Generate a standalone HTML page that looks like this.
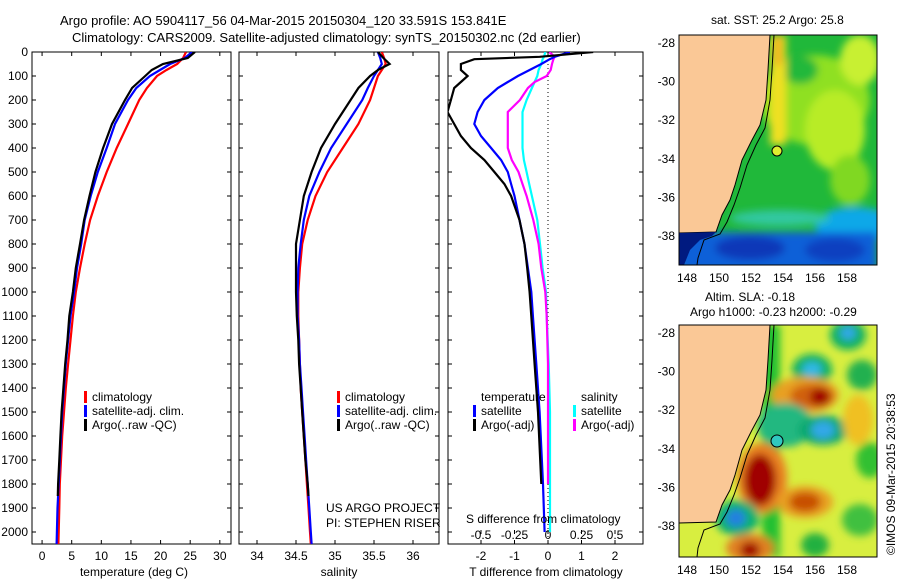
<!DOCTYPE html>
<html><head><meta charset="utf-8"><style>
body{margin:0;background:#fff}
svg{display:block;font-family:"Liberation Sans",sans-serif;font-size:12px}
</style></head><body>
<svg id="fig" width="900" height="580" viewBox="0 0 900 580">
<defs>
<filter id="blur6" x="-50%" y="-50%" width="200%" height="200%"><feGaussianBlur stdDeviation="4"/></filter>
<clipPath id="c1"><rect x="679" y="35" width="198" height="230"/></clipPath>
<clipPath id="c2"><rect x="679" y="325" width="198" height="232"/></clipPath>
<clipPath id="p1"><rect x="32" y="52" width="199" height="492"/></clipPath>
<clipPath id="p2"><rect x="239" y="52" width="200" height="492"/></clipPath>
<clipPath id="p3"><rect x="448" y="52" width="195" height="492"/></clipPath>
</defs>
<text x="60" y="25" font-size="13">Argo profile: AO 5904117_56 04-Mar-2015 20150304_120 33.591S 153.841E</text>
<text x="72" y="42" font-size="13">Climatology: CARS2009. Satellite-adjusted climatology: synTS_20150302.nc (2d earlier)</text>
<g id="axes"></g>
<g id="maps">
 <g clip-path="url(#c1)">
  <rect x="679" y="35" width="198" height="230" fill="#20b83a"/>
  <g filter="url(#blur6)">
   <ellipse cx="815" cy="100" rx="55" ry="45" fill="#8fe020"/>
   <ellipse cx="835" cy="130" rx="30" ry="40" fill="#b8ec28"/>
   <ellipse cx="860" cy="60" rx="20" ry="25" fill="#c8f030"/>
   <ellipse cx="800" cy="70" rx="18" ry="14" fill="#20b83a"/>
   <ellipse cx="850" cy="180" rx="20" ry="25" fill="#80d820"/>
   <rect x="770" y="35" width="16" height="110" fill="#f0e020"/>
   <rect x="775" y="35" width="6" height="30" fill="#f0a020"/>
   <ellipse cx="855" cy="225" rx="40" ry="18" fill="#10a8e8"/>
   <rect x="679" y="232" width="198" height="40" fill="#1060d8"/>
   <ellipse cx="780" cy="218" rx="50" ry="8" fill="#30c8a0"/>
   <ellipse cx="750" cy="248" rx="35" ry="12" fill="#0838b8"/>
   <ellipse cx="835" cy="250" rx="30" ry="12" fill="#0840c0"/>
  </g>
  <polygon points="679,35 770,35 768,70 766,100 760,125 752,140 742,160 735,185 730,200 722,215 716,232 679,233" fill="#fac896" stroke="#000" stroke-width="1"/>
  <polygon points="679,233 716,232 712,236 700,240 690,250 684,265 679,265" fill="#001a80"/>
  <polyline points="774,35 772,70 770,100 765,128 756,145 747,165 740,188 734,205 727,222 720,234 704,240 698,258 697,265" fill="none" stroke="#000" stroke-width="1"/>
  <circle cx="777" cy="151" r="5" fill="#e0ee30" stroke="#000" stroke-width="1"/>
 </g>
 <rect x="679" y="35" width="198" height="230" fill="none" stroke="#000"/>
 <g clip-path="url(#c2)">
  <rect x="679" y="325" width="198" height="232" fill="#d8ee40"/>
  <g filter="url(#blur6)">
   <rect x="762" y="325" width="18" height="232" fill="#20c030"/>
   <ellipse cx="812" cy="370" rx="20" ry="16" fill="#10b060"/>
   <ellipse cx="812" cy="369" rx="10" ry="7" fill="#30b8e8"/>
   <ellipse cx="848" cy="335" rx="18" ry="15" fill="#10b060"/>
   <ellipse cx="848" cy="333" rx="8" ry="7" fill="#30a8e8"/>
   <ellipse cx="805" cy="395" rx="34" ry="18" fill="#e8a020"/>
   <ellipse cx="812" cy="396" rx="22" ry="12" fill="#d06010"/>
   <ellipse cx="820" cy="397" rx="10" ry="9" fill="#a00000"/>
   <ellipse cx="785" cy="425" rx="28" ry="22" fill="#20b880"/>
   <ellipse cx="823" cy="430" rx="25" ry="15" fill="#10a870"/>
   <ellipse cx="823" cy="430" rx="12" ry="9" fill="#30a8e8"/>
   <ellipse cx="762" cy="478" rx="25" ry="35" fill="#e88020"/>
   <ellipse cx="760" cy="480" rx="16" ry="26" fill="#a00000"/>
   <ellipse cx="737" cy="518" rx="22" ry="18" fill="#10b070"/>
   <ellipse cx="736" cy="518" rx="10" ry="9" fill="#2080e0"/>
   <ellipse cx="805" cy="502" rx="28" ry="16" fill="#e8a020"/>
   <ellipse cx="805" cy="502" rx="16" ry="10" fill="#c85000"/>
   <ellipse cx="750" cy="548" rx="24" ry="14" fill="#e08020"/>
   <ellipse cx="750" cy="550" rx="10" ry="8" fill="#a00000"/>
   <ellipse cx="862" cy="375" rx="15" ry="15" fill="#20b050"/>
   <ellipse cx="858" cy="420" rx="15" ry="25" fill="#f0c020"/>
   <ellipse cx="870" cy="460" rx="14" ry="18" fill="#30c030"/>
   <ellipse cx="860" cy="520" rx="18" ry="16" fill="#40c040"/>
   <ellipse cx="815" cy="545" rx="14" ry="12" fill="#20b040"/>
  </g>
  <polygon points="679,325 770,325 768,360 766,390 760,415 752,430 742,450 735,475 730,490 722,505 716,522 679,523" fill="#fac896" stroke="#000" stroke-width="1"/>
  <polyline points="774,325 772,360 770,390 765,418 756,435 747,455 740,478 734,495 727,512 720,524 704,530 698,548 697,557" fill="none" stroke="#000" stroke-width="1"/>
  <circle cx="777" cy="441" r="6" fill="#30c8c0" stroke="#000" stroke-width="1"/>
 </g>
 <rect x="679" y="325" width="198" height="232" fill="none" stroke="#000"/>
 <text x="711" y="24">sat. SST: 25.2 Argo: 25.8</text>
 <text x="705" y="301">Altim. SLA: -0.18</text>
 <text x="690" y="316">Argo h1000: -0.23 h2000: -0.29</text>
 <text transform="translate(895,555) rotate(-90)">©IMOS 09-Mar-2015 20:38:53</text>
</g>
<g id="marks"></g>
<g>
 <text x="326" y="512">US ARGO PROJECT</text>
 <text x="326" y="527">PI: STEPHEN RISER</text>
 <text x="466" y="523">S difference from climatology</text>
</g>
</svg>
<script>
const NS="http://www.w3.org/2000/svg";
const svg=document.getElementById('fig');
const axesG=document.getElementById('axes');
const marksG=document.getElementById('marks');
// ---- data ----
const depthTicks=[0,100,200,300,400,500,600,700,800,900,1000,1100,1200,1300,1400,1500,1600,1700,1800,1900,2000];
const depthsFull=[0,25,50,75,100,150,200,300,400,500,600,700,800,900,1000,1100,1200,1300,1400,1500,1600,1700,1800,1900,2000,2050];
const depthsArgo=[0,25,50,75,100,150,200,300,400,500,600,700,800,900,1000,1100,1200,1300,1400,1500,1600,1700,1800,1850];
const tempClim=[24.3,23.8,22.8,21,19.4,17.7,16.4,14.5,12.6,10.9,9.4,8.1,7.2,6.4,5.7,5.2,4.8,4.4,4.0,3.7,3.4,3.2,3.0,2.9,2.8,2.75];
const tempSat=[25.3,24.1,21.6,19.9,18.2,15.9,14.5,12.3,10.9,9.4,8.2,7.2,6.6,5.9,5.4,4.8,4.4,4.0,3.7,3.4,3.2,3.0,2.8,2.6,2.5,2.45];
const tempArgo=[25.8,24.6,20.4,18.5,17.4,15.2,14.0,11.8,10.3,9.0,8.0,7.1,6.4,5.7,5.2,4.6,4.3,3.9,3.6,3.3,3.1,2.9,2.7,2.65];
const salClim=[35.6,35.63,35.65,35.6,35.55,35.5,35.45,35.3,35.1,34.9,34.75,34.65,34.58,34.55,34.53,34.53,34.54,34.55,34.56,34.58,34.6,34.62,34.64,34.66,34.68,34.69];
const salSat=[35.55,35.58,35.6,35.55,35.5,35.42,35.35,35.15,34.95,34.8,34.67,34.6,34.56,34.53,34.52,34.52,34.54,34.55,34.57,34.59,34.61,34.63,34.65,34.67,34.69,34.7];
const salArgo=[35.55,35.62,35.7,35.55,35.45,35.3,35.2,35.0,34.82,34.7,34.6,34.55,34.5,34.5,34.5,34.51,34.53,34.54,34.56,34.58,34.6,34.62,34.65,34.66];
const depthsDiff=[0,20,30,50,75,100,125,150,200,250,300,350,400,450,500,550,600,700,800,900,1000,1100,1300,1500,1800,2000];
const tDiffSat=[0.65,0.2,0.05,-0.2,-0.55,-0.9,-1.2,-1.5,-1.9,-2.1,-2.2,-2.0,-1.7,-1.4,-1.2,-1.1,-1.0,-0.85,-0.7,-0.6,-0.5,-0.45,-0.35,-0.25,-0.15,-0.1];
const tDiffArgo=[1.35,-0.25,-2.2,-2.6,-2.6,-2.4,-2.6,-2.8,-2.9,-3.0,-2.8,-2.6,-2.3,-1.9,-1.6,-1.3,-1.1,-0.85,-0.7,-0.62,-0.55,-0.5,-0.4,-0.3,-0.2,null];
const sDiffSat=[-0.02,-0.03,-0.04,-0.05,-0.07,-0.08,-0.1,-0.12,-0.16,-0.19,-0.19,-0.19,-0.19,-0.18,-0.16,-0.14,-0.12,-0.08,-0.06,-0.04,-0.015,-0.01,0.005,0.015,0.015,0.015];
const sDiffArgo=[0.01,0.05,0.04,0.03,0.02,-0.01,-0.1,-0.15,-0.21,-0.3,-0.3,-0.3,-0.3,-0.27,-0.22,-0.19,-0.16,-0.11,-0.07,-0.05,-0.02,-0.01,0,0,0,null];
const tTicks=[0,5,10,15,20,25,30];
const sTicks=[34,34.5,35,35.5,36];
const tdTicks=[-2,-1,0,1,2];
const sdTicks=[-0.5,-0.25,0,0.25,0.5];
const latTicks=[-28,-30,-32,-34,-36,-38];
const lonTicks=[148,150,152,154,156,158];
// ---- scales ----
const yD=d=>52+d*0.24;
const xT=t=>32+(t+1.7)*5.925;
const xS=s=>257+(s-34)*78;
const xTD=t=>548+t*33.5;
const xSD=s=>548+s*134;
function el(tag,attrs,parent){const e=document.createElementNS(NS,tag);for(const k in attrs)e.setAttribute(k,attrs[k]);(parent||svg).appendChild(e);return e;}
function txt(x,y,s,anchor,parent,name){const t=el('text',{x:x,y:y,'text-anchor':anchor||'middle'},parent);t.textContent=s;


return t;}
const panels=[[32,231,'temperature-panel'],[239,439,'salinity-panel'],[448,643,'difference-panel']];
panels.forEach(p=>{const r=el('rect',{x:p[0],y:52,width:p[1]-p[0],height:492,fill:'none',stroke:'#000'},axesG);


depthTicks.forEach(d=>{el('line',{x1:p[0],x2:p[0]+4,y1:yD(d),y2:yD(d),stroke:'#000'},axesG);el('line',{x1:p[1],x2:p[1]-4,y1:yD(d),y2:yD(d),stroke:'#000'},axesG);});});
depthTicks.forEach(d=>txt(28,yD(d)+4,String(d),'end',axesG,'depth-tick-label'));
tTicks.forEach(t=>{el('line',{x1:xT(t),x2:xT(t),y1:544,y2:540,stroke:'#000'},axesG);el('line',{x1:xT(t),x2:xT(t),y1:52,y2:56,stroke:'#000'},axesG);txt(xT(t),560,String(t),'middle',axesG,'temperature-tick-label');});
sTicks.forEach(s=>{el('line',{x1:xS(s),x2:xS(s),y1:544,y2:540,stroke:'#000'},axesG);el('line',{x1:xS(s),x2:xS(s),y1:52,y2:56,stroke:'#000'},axesG);txt(xS(s),560,String(s),'middle',axesG,'salinity-tick-label');});
tdTicks.forEach(t=>{el('line',{x1:xTD(t),x2:xTD(t),y1:544,y2:540,stroke:'#000'},axesG);el('line',{x1:xTD(t),x2:xTD(t),y1:52,y2:56,stroke:'#000'},axesG);txt(xTD(t),560,String(t),'middle',axesG,'t-diff-tick-label');});
sdTicks.forEach(s=>{el('line',{x1:xSD(s),x2:xSD(s),y1:534,y2:530,stroke:'#000'},axesG);txt(xSD(s),539,String(s),'middle',axesG,'s-diff-tick-label');});
txt(134,576,'temperature (deg C)','middle',axesG,'temperature-axis-title');
txt(339,576,'salinity','middle',axesG,'salinity-axis-title');
txt(546,576,'T difference from climatology','middle',axesG,'t-diff-axis-title');
el('line',{x1:548,x2:548,y1:52,y2:544,stroke:'#000','stroke-dasharray':'1,3'},axesG);
// map ticks
[[35,265,43],[325,557,333]].forEach(m=>{latTicks.forEach(l=>{const y=m[2]+(-28-l)*19.3;el('line',{x1:679,x2:683,y1:y,y2:y,stroke:'#000'},axesG);el('line',{x1:877,x2:873,y1:y,y2:y,stroke:'#000'},axesG);txt(675,y+4,String(l),'end',axesG,'latitude-tick-label');});
lonTicks.forEach(l=>{const x=687+(l-148)*16;el('line',{x1:x,x2:x,y1:m[0],y2:m[0]+4,stroke:'#000'},axesG);el('line',{x1:x,x2:x,y1:m[1],y2:m[1]-4,stroke:'#000'},axesG);txt(x,m[1]+17,String(l),'middle',axesG,'longitude-tick-label');});});
function line(xs,ds,xf,color,clip,name){const pts=[];xs.forEach((v,i)=>{if(v!==null)pts.push(xf(v).toFixed(1)+','+yD(ds[i]).toFixed(1));});
const g=el('polyline',{points:pts.join(' '),fill:'none',stroke:color,'stroke-width':2.2,'clip-path':'url(#'+clip+')'},marksG);

}
line(tempClim,depthsFull,xT,'#f00','p1','temperature-climatology-line');
line(tempSat,depthsFull,xT,'#00f','p1','temperature-satellite-line');
line(tempArgo,depthsArgo,xT,'#000','p1','temperature-argo-line');
line(salClim,depthsFull,xS,'#f00','p2','salinity-climatology-line');
line(salSat,depthsFull,xS,'#00f','p2','salinity-satellite-line');
line(salArgo,depthsArgo,xS,'#000','p2','salinity-argo-line');
line(sDiffSat,depthsDiff,xSD,'#0ff','p3','s-diff-satellite-line');
line(sDiffArgo,depthsDiff,xSD,'#f0f','p3','s-diff-argo-line');
line(tDiffSat,depthsDiff,xTD,'#00f','p3','t-diff-satellite-line');
line(tDiffArgo,depthsDiff,xTD,'#000','p3','t-diff-argo-line');
// legends
function leg(x,y,c,label,name){const r=el('rect',{x:x,y:y-10,width:3,height:12,fill:c},marksG);


txt(x+8,y,label,'start',marksG,name);}
[[84,'#f00','climatology'],[84,'#00f','satellite-adj. clim.'],[84,'#000','Argo(..raw -QC)']].forEach((l,i)=>leg(l[0],401+i*14,l[1],l[2],'temperature-legend-entry'));
[[337,'#f00','climatology'],[337,'#00f','satellite-adj. clim.'],[337,'#000','Argo(..raw -QC)']].forEach((l,i)=>leg(l[0],401+i*14,l[1],l[2],'salinity-legend-entry'));
txt(481,401,'temperature','start',marksG,'diff-legend-temperature-header');
txt(581,401,'salinity','start',marksG,'diff-legend-salinity-header');
leg(473,415,'#00f','satellite','diff-legend-t-satellite');
leg(473,429,'#000','Argo(-adj)','diff-legend-t-argo');
leg(573,415,'#0ff','satellite','diff-legend-s-satellite');
leg(573,429,'#f0f','Argo(-adj)','diff-legend-s-argo');
</script>
</body></html>
